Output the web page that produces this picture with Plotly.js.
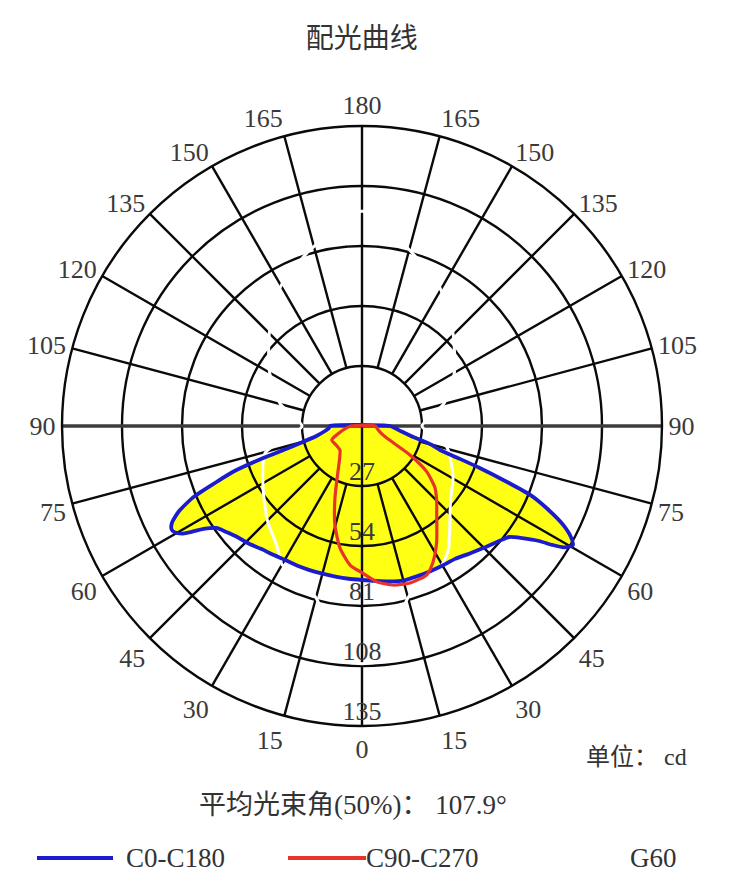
<!DOCTYPE html>
<html><head><meta charset="utf-8">
<script src="https://cdn.plot.ly/plotly-3.0.1.min.js"></script>
<style>html,body{margin:0;padding:0;background:#fff}</style>
</head><body><div id="chart" style="width:734px;height:894px"></div>
<script>
// gamma angle (deg from nadir) and luminous intensity (cd)
const c0Gamma   = [0,5,10,15,20,25,30,35,40,45,50,53,55,57,58,59,60.5,62,63.8,66,67.7,69,70.4,71.5,72.9,75,78.5,82,86,90];
const c0Cd      = [69.3,70,71,72,72,72.2,72.5,73,75,77.5,80.5,83,88,95,101,106,109,106.5,101,91,82,69,56,46,36.7,32,22.5,18,15,12.6];
const c180Gamma = [0,5,10,15,20,25,30,35,39,44,48,52,55,57,59,60.5,61.5,63,65,67.2,69,70.4,72,73,74.5,77.6,82,86,90];
const c180Cd    = [69.3,69,68.8,68.8,69,69.3,69.5,70.5,71.4,73.5,75,77.5,80,85,94,97,97.5,96,91,82,70,62,47,37,29,21,17,15,14.4];
const c90Gamma  = [0,5.4,11,17,23.5,27.6,32.8,40,45,49.7,54.8,58.9,64,70,80,90];
const c90Cd     = [66,70.4,72.9,73.9,73,69,62,52.3,47.5,43.1,35.6,25.2,12.4,9,7,6];
const c270Gamma = [0,4.9,10.2,15.3,20.6,27.6,35,42.5,55,65.2,78,90];
const c270Cd    = [66,62.8,55.8,46.2,34.6,23.4,17.5,14.7,14.5,15,8.7,5];
const g60RightGamma = [0,4,8,15,22,30,35,43,50,60.7,76,90,105,120,135.6,150.7,166,180];
const g60RightCd    = [107,106,95,80,74,72,67.8,58,52,47,39.4,27,38,48,58.5,71.5,83,97];
const g60LeftGamma  = [0,4,8,15,22,30,35,45.3,58.4,74.4,90,105,120,135,149.5,163.5,180];
const g60LeftCd     = [107,106,95,80,74,72,66.5,60,52.3,45.3,27,38,48,59,72.5,82.6,97];
const ringValues = [27,54,81,108,135];
const angleTicks = [0,15,30,45,60,75,90,105,120,135,150,165,180,195,210,225,240,255,270,285,300,315,330,345];
const angleTickText = angleTicks.map(t => String(t <= 180 ? t : 360 - t));
const legendNames = ['C0-C180','C90-C270','G60'];

// right half: theta = gamma; left half: theta = 360 - gamma
function joinHalves(rg, rc, lg, lc) {
  const th = [], r = [];
  for (let i = 0; i < rg.length; i++) { th.push(rg[i]); r.push(rc[i]); }
  for (let i = lg.length - 1; i >= 0; i--) { th.push(360 - lg[i]); r.push(lc[i]); }
  return {th, r};
}
const blue = joinHalves(c0Gamma, c0Cd, c180Gamma, c180Cd);
const red  = joinHalves(c90Gamma, c90Cd, c270Gamma, c270Cd);
const g60R = {th: g60RightGamma.slice(), r: g60RightCd.slice()};
const g60L = {th: g60LeftGamma.map(g => 360 - g), r: g60LeftCd.slice()};

// grid spokes from first ring outward
const spokeR = [], spokeT = [];
angleTicks.forEach(a => {
  if (a % 90 !== 0) { spokeR.push(ringValues[0], ringValues[ringValues.length-1], null); spokeT.push(a, a, null); }
});
const rMax = ringValues[ringValues.length-1];

const FONT = 'Liberation Serif, "Noto Sans CJK SC", serif';
const BLUE = '#1c1ccf', RED = '#e8322a', YEL = '#ffff14';
const GRID = '#0a0a0a', GW = 2.4;

const traces = [
  {type:'scatterpolar', subplot:'polar', r:blue.r, theta:blue.th, mode:'lines', fill:'toself',
   fillcolor:YEL, line:{width:0, shape:'spline', smoothing:0.6}, hoverinfo:'skip', showlegend:false},
  {type:'scatterpolar', subplot:'polar2', r:spokeR, theta:spokeT, mode:'lines', connectgaps:false,
   line:{color:GRID, width:GW}, hoverinfo:'skip', showlegend:false},
  {type:'scatterpolar', subplot:'polar2', r:[rMax,0,rMax], theta:[0,0,180], mode:'lines',
   line:{color:GRID, width:GW}, hoverinfo:'skip', showlegend:false},
  {type:'scatterpolar', subplot:'polar2', r:[rMax,0,rMax], theta:[90,90,270], mode:'lines',
   line:{color:'#3c3c3c', width:3.4}, hoverinfo:'skip', showlegend:false},
  {type:'scatterpolar', subplot:'polar2', r:g60R.r, theta:g60R.th, mode:'lines', name:legendNames[2],
   line:{color:'#ffffff', width:3, shape:'spline', smoothing:0.6}, showlegend:false},
  {type:'scatterpolar', subplot:'polar2', r:g60L.r, theta:g60L.th, mode:'lines', name:legendNames[2],
   line:{color:'#ffffff', width:3, shape:'spline', smoothing:0.6}, showlegend:false},
  {type:'scatterpolar', subplot:'polar2', r:blue.r, theta:blue.th, mode:'lines', name:legendNames[0],
   line:{color:BLUE, width:3.8, shape:'spline', smoothing:0.6}, showlegend:false},
  {type:'scatterpolar', subplot:'polar2', r:red.r, theta:red.th, mode:'lines', name:legendNames[1],
   line:{color:RED, width:3.2, shape:'spline', smoothing:0.6}, showlegend:false},
  {type:'scatterpolar', subplot:'polar2', r:ringValues, theta:ringValues.map(()=>0), mode:'text',
   text:ringValues.map(String), textposition:'top center', cliponaxis:false,
   textfont:{family:FONT, size:26, color:'#3a3a3a'}, hoverinfo:'skip', showlegend:false}
];

const dom = {x:[(362-300)/734, (362+300)/734], y:[(894-426-300)/894, (894-426+300)/894]};
const layout = {
  width:734, height:894, margin:{l:0,r:0,t:0,b:0},
  paper_bgcolor:'#fff', showlegend:false,
  font:{family:FONT, color:'#333'},
  title:{text:'配光曲线', x:0.493, xanchor:'center', y:1-38/894, yanchor:'middle',
         font:{family:'"Noto Sans CJK SC", sans-serif', size:28, color:'#333'}},
  polar:{domain:dom, bgcolor:'#fff',
    radialaxis:{range:[0,rMax], visible:false},
    angularaxis:{rotation:270, direction:'counterclockwise', visible:false}},
  polar2:{domain:dom, bgcolor:'rgba(0,0,0,0)',
    radialaxis:{range:[0,rMax], tickvals:ringValues.slice(0,-1), showticklabels:false, ticks:'',
                showline:false, gridcolor:GRID, gridwidth:GW},
    angularaxis:{rotation:270, direction:'counterclockwise', tickvals:angleTicks, ticktext:angleTickText,
                 showgrid:false, showline:true, linecolor:GRID, linewidth:GW, ticks:'',
                 tickfont:{family:FONT, size:26, color:'#3a3a3a'}}},
  shapes:[
    {type:'line', xref:'paper', yref:'paper', x0:37/734, x1:113/734, y0:1-858/894, y1:1-858/894, line:{color:BLUE, width:4}},
    {type:'line', xref:'paper', yref:'paper', x0:288/734, x1:366/734, y0:1-858/894, y1:1-858/894, line:{color:RED, width:4}}
  ],
  annotations:[
    {text:'单位： cd', xref:'paper', yref:'paper', x:636/734, y:1-757/894, xanchor:'center', yanchor:'middle', showarrow:false,
     font:{family:FONT, size:24, color:'#333'}},
    {text:'平均光束角(50%)： 107.9°', xref:'paper', yref:'paper', x:353/734, y:1-805/894, xanchor:'center', yanchor:'middle', showarrow:false,
     font:{family:FONT, size:27, color:'#333'}},
    {text:legendNames[0], xref:'paper', yref:'paper', x:124/734, y:1-858/894, xanchor:'left', yanchor:'middle', showarrow:false,
     font:{family:FONT, size:27, color:'#333'}},
    {text:legendNames[1], xref:'paper', yref:'paper', x:364/734, y:1-858/894, xanchor:'left', yanchor:'middle', showarrow:false,
     font:{family:FONT, size:27, color:'#333'}},
    {text:legendNames[2], xref:'paper', yref:'paper', x:628/734, y:1-858/894, xanchor:'left', yanchor:'middle', showarrow:false,
     font:{family:FONT, size:27, color:'#333'}}
  ]
};
Plotly.newPlot('chart', traces, layout, {displayModeBar:false, staticPlot:true});
</script></body></html>
